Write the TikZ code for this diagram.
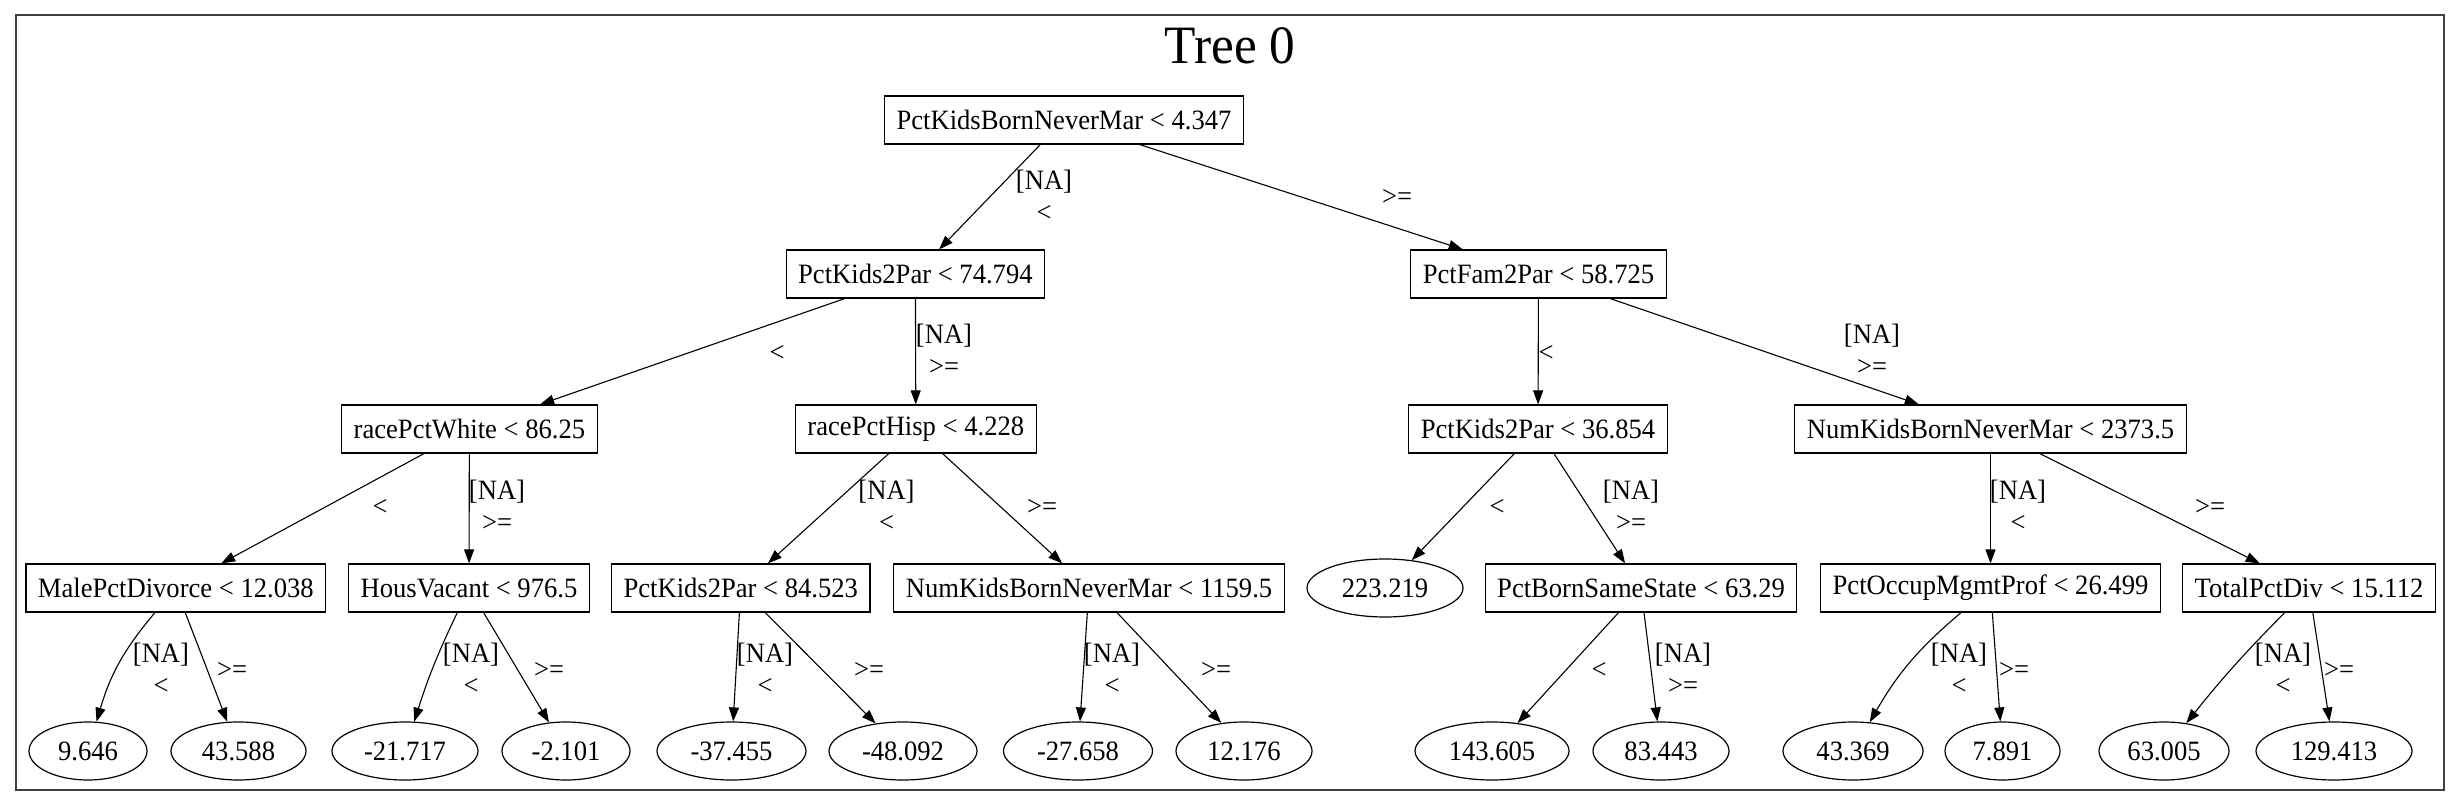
\documentclass[tikz,border=0pt]{standalone}
\usepackage{fontspec}
\setmainfont{Liberation Serif}[FakeStretch=0.95]
\usetikzlibrary{arrows.meta,shapes.geometric}
\begin{document}
\begin{tikzpicture}[x=0.5pt,y=0.5pt,
  frame/.style={draw=black!75,line width=0.9pt},
  titletext/.style={font=\fontsize{27}{30}\selectfont,inner sep=0pt},
  splitbox/.style={draw,rectangle,line width=0.6pt,inner xsep=6pt,inner ysep=2pt,minimum height=24pt,font=\fontsize{14}{16}\selectfont},
  leafnode/.style={draw,ellipse,line width=0.6pt,inner xsep=1pt,inner ysep=1pt,minimum height=29pt,font=\fontsize{14}{16}\selectfont},
  lbl/.style={font=\fontsize{14}{16}\selectfont,align=center,inner sep=0pt},
  conn/.style={line width=0.55pt,-{Triangle[length=7pt,width=5pt]}}]
\useasboundingbox (0,0) rectangle (2461,-806);
\draw[frame] (16,-15) rectangle (2444,-790);
\node[titletext,anchor=base] (title) at (1230,-64) {Tree 0};
% level 0
\node[splitbox] (root) at (1064,-120) {PctKidsBornNeverMar < 4.347};
% level 1
\node[splitbox] (k2p74) at (915.4,-274) {PctKids2Par < 74.794};
\node[splitbox] (fam) at (1538.5,-274) {PctFam2Par < 58.725};
% level 2
\node[splitbox] (rpw) at (469.4,-429) {racePctWhite < 86.25};
\node[splitbox] (rph) at (915.8,-429) {racePctHisp < 4.228};
\node[splitbox] (k2p36) at (1538,-429) {PctKids2Par < 36.854};
\node[splitbox] (nk2373) at (1990.5,-429) {NumKidsBornNeverMar < 2373.5};
% level 3
\node[splitbox] (mpd) at (175.8,-588) {MalePctDivorce < 12.038};
\node[splitbox] (hv) at (469,-588) {HousVacant < 976.5};
\node[splitbox] (k2p84) at (740.8,-588) {PctKids2Par < 84.523};
\node[splitbox] (nk1159) at (1089,-588) {NumKidsBornNeverMar < 1159.5};
\node[leafnode,minimum width=78pt] (l223) at (1385,-588) {223.219};
\node[splitbox] (pbss) at (1641,-588) {PctBornSameState < 63.29};
\node[splitbox] (pomp) at (1990.5,-588) {PctOccupMgmtProf < 26.499};
\node[splitbox] (tpd) at (2309,-588) {TotalPctDiv < 15.112};
% leaves
\node[leafnode,minimum width=59pt] (l9646) at (88,-751) {9.646};
\node[leafnode,minimum width=67.5pt] (l43588) at (238.5,-751) {43.588};
\node[leafnode,minimum width=73pt] (lm21717) at (405,-751) {-21.717};
\node[leafnode,minimum width=64pt] (lm2101) at (566,-751) {-2.101};
\node[leafnode,minimum width=74.5pt] (lm37455) at (731.5,-751) {-37.455};
\node[leafnode,minimum width=74pt] (lm48092) at (903,-751) {-48.092};
\node[leafnode,minimum width=74.5pt] (lm27658) at (1078,-751) {-27.658};
\node[leafnode,minimum width=68pt] (l12176) at (1244,-751) {12.176};
\node[leafnode,minimum width=77pt] (l143605) at (1492,-751) {143.605};
\node[leafnode,minimum width=68pt] (l83443) at (1661,-751) {83.443};
\node[leafnode,minimum width=70pt] (l43369) at (1853,-751) {43.369};
\node[leafnode,minimum width=57.5pt] (l7891) at (2002.5,-751) {7.891};
\node[leafnode,minimum width=65pt] (l63005) at (2164,-751) {63.005};
\node[leafnode,minimum width=78pt] (l129413) at (2334,-751) {129.413};
% edges
\draw[conn] (root) -- (k2p74);
\draw[conn] (root) -- (fam);
\draw[conn] (k2p74) -- (rpw);
\draw[conn] (k2p74) -- (rph);
\draw[conn] (fam) -- (k2p36);
\draw[conn] (fam) -- (nk2373);
\draw[conn] (rpw) -- (mpd);
\draw[conn] (rpw) -- (hv);
\draw[conn] (rph) -- (k2p84);
\draw[conn] (rph) -- (nk1159);
\draw[conn] (k2p36) -- (l223);
\draw[conn] (k2p36) -- (pbss);
\draw[conn] (nk2373) -- (pomp);
\draw[conn] (nk2373) -- (tpd);
\draw[conn] (mpd) to[bend right=12] (l9646);
\draw[conn] (mpd) -- (l43588);
\draw[conn] (hv) to[bend right=4] (lm21717);
\draw[conn] (hv) -- (lm2101);
\draw[conn] (k2p84) -- (lm37455);
\draw[conn] (k2p84) -- (lm48092);
\draw[conn] (nk1159) -- (lm27658);
\draw[conn] ([xshift=14pt]nk1159.south) -- (l12176.129);
\draw[conn] (pbss) -- (l143605);
\draw[conn] (pbss) -- (l83443);
\draw[conn] (pomp) to[bend right=10] (l43369);
\draw[conn] (pomp) -- (l7891);
\draw[conn] (tpd) to[bend right=3] (l63005);
\draw[conn] (tpd) -- (l129413);
% edge labels
\node[lbl] (e1) at (1044,-196) {[NA]\\<};
\node[lbl] (e2) at (1397,-197) {>=};
\node[lbl] (e3) at (777,-353) {<};
\node[lbl] (e4) at (944,-350) {[NA]\\>=};
\node[lbl] (e5) at (1546,-353) {<};
\node[lbl] (e6) at (1872,-350) {[NA]\\>=};
\node[lbl] (e7) at (380,-507.5) {<};
\node[lbl] (e8) at (497,-505.5) {[NA]\\>=};
\node[lbl] (e9) at (886.5,-505.5) {[NA]\\<};
\node[lbl] (e10) at (1042,-507) {>=};
\node[lbl] (e11) at (1497,-507.5) {<};
\node[lbl] (e12) at (1631,-505.5) {[NA]\\>=};
\node[lbl] (e13) at (2018,-505.5) {[NA]\\<};
\node[lbl] (e14) at (2210,-507) {>=};
\node[lbl] (e15) at (161,-668.5) {[NA]\\<};
\node[lbl] (e16) at (232,-670) {>=};
\node[lbl] (e17) at (471,-668.5) {[NA]\\<};
\node[lbl] (e18) at (549,-670) {>=};
\node[lbl] (e19) at (765,-668.5) {[NA]\\<};
\node[lbl] (e20) at (869,-670) {>=};
\node[lbl] (e21) at (1112,-668.5) {[NA]\\<};
\node[lbl] (e22) at (1216,-670) {>=};
\node[lbl] (e23) at (1599,-670) {<};
\node[lbl] (e24) at (1683,-668.5) {[NA]\\>=};
\node[lbl] (e25) at (1959,-668.5) {[NA]\\<};
\node[lbl] (e26) at (2014,-670) {>=};
\node[lbl] (e27) at (2283,-668.5) {[NA]\\<};
\node[lbl] (e28) at (2339,-670) {>=};
\end{tikzpicture}
\end{document}
